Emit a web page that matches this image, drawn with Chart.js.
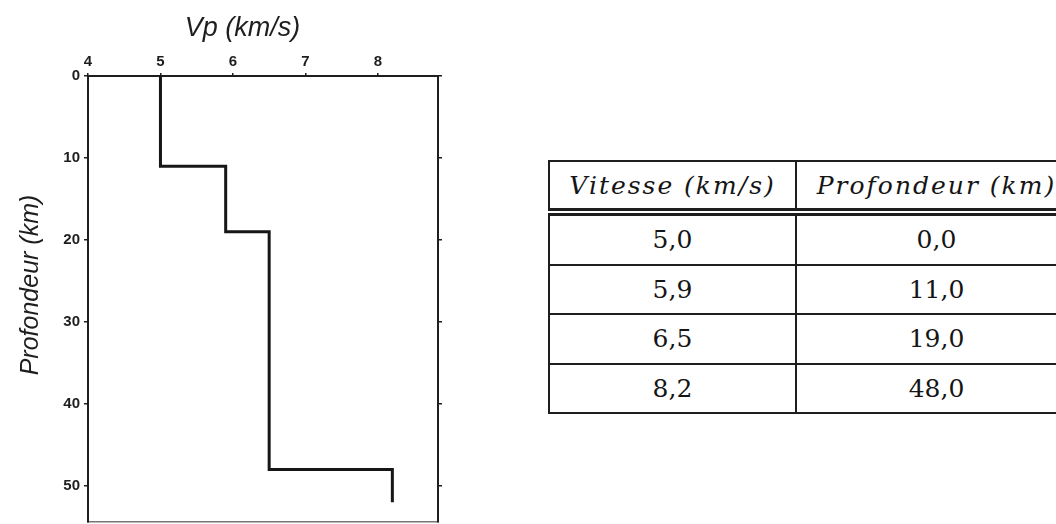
<!DOCTYPE html>
<html lang="fr">
<head>
<meta charset="utf-8">
<title>Profil de vitesse Vp</title>
<script src="https://cdn.jsdelivr.net/npm/chart.js@4.4.1/dist/chart.umd.min.js"></script>
<style>
    html, body { margin: 0; padding: 0; background: #fff; }
    body { width: 1056px; height: 524px; overflow: hidden; position: relative; }
    #chartBox { position: absolute; left: 0; top: 0; width: 485px; height: 524px; }
    #tableVitesses {
        position: absolute; left: 548px; top: 160px;
        border-collapse: collapse; table-layout: fixed; width: 528px;
        font-family: 'DejaVu Serif', serif; font-size: 25px; color: #151515;
    }
    #tableVitesses th, #tableVitesses td {
        border: 2px solid #1e1e1e; text-align: center; padding: 0;
    }
    #tableVitesses th {
        height: 46px; font-style: italic; font-weight: normal;
        letter-spacing: 2px; border-bottom: 8px double #1e1e1e;
    }
    #tableVitesses td { height: 47.5px; }
</style>
</head>
<body>
<div id="chartBox"><canvas id="profilChart"></canvas></div>
<table id="tableVitesses">
    <colgroup><col style="width:247px"><col style="width:281px"></colgroup>
    <thead><tr><th>Vitesse (km/s)</th><th>Profondeur (km)</th></tr></thead>
    <tbody id="tableBody"></tbody>
</table>
<script>
// Velocity model: Vp of each layer and depth of its top
const vitesses = [5.0, 5.9, 6.5, 8.2];
const profondeurs = [0.0, 11.0, 19.0, 48.0];
const profondeurBas = 52; // where the drawn profile stops
const vitesseTicks = [4, 5, 6, 7, 8];
const profondeurTicks = [0, 10, 20, 30, 40, 50];

const INK = '#1e1e1e';
const tickFont = { family: "'Liberation Sans', Arial, sans-serif", size: 15, weight: 'bold' };

// Staircase: each layer is a vertical segment from its top to the next top
const profil = [];
vitesses.forEach((v, i) => {
    const haut = profondeurs[i];
    const bas = i < profondeurs.length - 1 ? profondeurs[i + 1] : profondeurBas;
    profil.push({ x: v, y: haut }, { x: v, y: bas });
});

// Table rows from the same arrays
const fmt = (n) => n.toFixed(1).replace('.', ',');
const tbody = document.getElementById('tableBody');
vitesses.forEach((v, i) => {
    const row = document.createElement('tr');
    row.innerHTML = `<td>${fmt(v)}</td><td>${fmt(profondeurs[i])}</td>`;
    tbody.appendChild(row);
});

// Rotated depth title, drawn a bit above the plot centre like the original
const titreProfondeur = {
    id: 'titreProfondeur',
    afterDraw(chart) {
        const ctx = chart.ctx;
        ctx.save();
        ctx.translate(31, 285);
        ctx.rotate(-Math.PI / 2);
        ctx.font = "italic 25px 'Liberation Sans', Arial, sans-serif";
        ctx.fillStyle = INK;
        ctx.textAlign = 'center';
        ctx.textBaseline = 'middle';
        ctx.fillText('Profondeur (km)', 0, 0);
        ctx.restore();
    }
};

const axeProfondeur = {
    type: 'linear',
    reverse: true,
    min: 0,
    max: 54.4,
    afterBuildTicks: (scale) => { scale.ticks = profondeurTicks.map(v => ({ value: v })); },
    grid: { drawOnChartArea: false, drawTicks: true, tickLength: 4, color: INK, lineWidth: 1.5 },
    border: { display: true, color: INK, width: 2 }
};

new Chart(document.getElementById('profilChart'), {
    type: 'scatter',
    data: {
        datasets: [{
            data: profil,
            showLine: true,
            borderColor: '#161616',
            borderWidth: 3,
            pointRadius: 0,
            borderJoinStyle: 'miter',
            xAxisID: 'x',
            yAxisID: 'y'
        }]
    },
    options: {
        responsive: true,
        maintainAspectRatio: false,
        animation: false,
        layout: { padding: 0 },
        plugins: {
            legend: { display: false },
            tooltip: { enabled: false },
            title: {
                display: true,
                text: 'Vp (km/s)',
                color: INK,
                font: { family: "'Liberation Sans', Arial, sans-serif", size: 27, style: 'italic', weight: 'normal' },
                padding: { top: 12, bottom: 0 }
            }
        },
        scales: {
            x: {
                type: 'linear',
                position: 'top',
                min: 4,
                max: 8.83,
                afterBuildTicks: (scale) => { scale.ticks = vitesseTicks.map(v => ({ value: v })); },
                ticks: { font: tickFont, color: INK, padding: 2, maxRotation: 0 },
                grid: { drawOnChartArea: false, drawTicks: true, tickLength: 3, color: INK, lineWidth: 1.5 },
                border: { display: true, color: INK, width: 2 },
                afterFit: (scale) => { scale.height = 76 - 12 - 27 * 1.2; }
            },
            x2: {
                type: 'linear',
                position: 'bottom',
                min: 4,
                max: 8.83,
                ticks: { display: false },
                grid: { display: false },
                border: { display: true, color: '#777', width: 1.5 },
                afterFit: (scale) => { scale.height = 2; }
            },
            y: Object.assign({}, axeProfondeur, {
                position: 'left',
                ticks: { font: tickFont, color: INK, padding: 4 },
                afterFit: (scale) => { scale.width = 88; scale.paddingTop = 0; scale.paddingBottom = 0; }
            }),
            y2: Object.assign({}, axeProfondeur, {
                position: 'right',
                ticks: { display: false },
                afterFit: (scale) => { scale.width = 47; scale.paddingTop = 0; scale.paddingBottom = 0; }
            })
        }
    },
    plugins: [titreProfondeur]
});
</script>
</body>
</html>
